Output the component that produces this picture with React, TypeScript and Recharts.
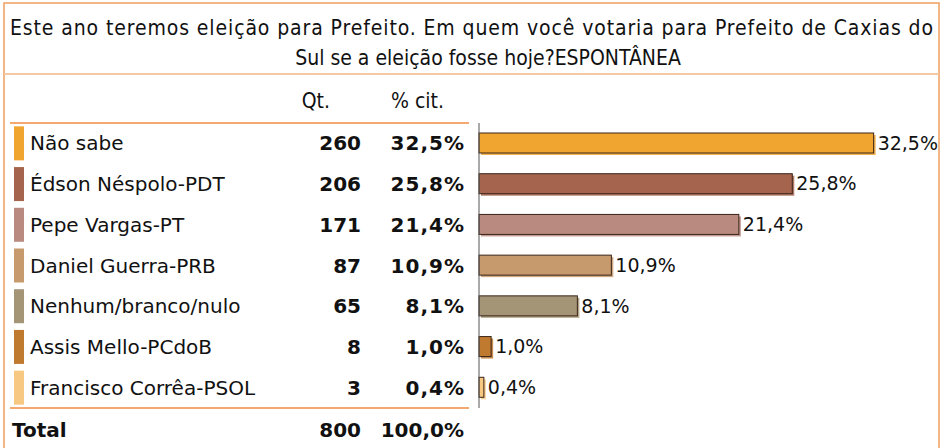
import React from "react";
import { BarChart, Bar, XAxis, YAxis, LabelList, Cell } from "recharts";

const categories = [
  "Não sabe",
  "Édson Néspolo-PDT",
  "Pepe Vargas-PT",
  "Daniel Guerra-PRB",
  "Nenhum/branco/nulo",
  "Assis Mello-PCdoB",
  "Francisco Corrêa-PSOL",
];
const counts = [260, 206, 171, 87, 65, 8, 3];
const percents = [32.5, 25.8, 21.4, 10.9, 8.1, 1.0, 0.4];
const colors = ["#F0A530", "#A5644E", "#B88A80", "#C69A6C", "#A39575", "#C07A30", "#F6C882"];
const titleLines = [
  "Este ano teremos eleição para Prefeito. Em quem você votaria para Prefeito de Caxias do",
  "Sul se a eleição fosse hoje?ESPONTÂNEA",
];
const headerQt = "Qt.";
const headerPct = "% cit.";
const totalLabel = "Total";
const totalCount = 800;
const totalPercent = 100.0;

const data = categories.map((name, i) => ({
  name,
  qt: counts[i],
  pct: percents[i],
  color: colors[i],
}));

const fmtPct = (v: number) => v.toFixed(1).replace(".", ",") + "%";

const FONT = "'DejaVu Sans', Verdana, sans-serif";
const TITLE_FONT = "'DejaVu Sans Condensed', 'DejaVu Sans', sans-serif";
const ORANGE = "#F0A060";

const RowTick = (props: any) => {
  const { y, payload, index } = props;
  const d = data[index] || data.find((r) => r.name === payload.value);
  return (
    <g>
      <rect x={14} y={y - 17} width={10} height={34} fill={d.color} />
      <text x={30} y={y} dy={7} fontSize={20} fontFamily={FONT} fill="#111" textAnchor="start">
        {payload.value}
      </text>
      <text x={361} y={y} dy={7} fontSize={20} fontWeight="bold" fontFamily={FONT} fill="#111" textAnchor="end">
        {d.qt}
      </text>
      <text x={465} y={y} dy={7} fontSize={20} fontWeight="bold" fontFamily={FONT} fill="#111" textAnchor="end" letterSpacing={1}>
        {fmtPct(d.pct)}
      </text>
    </g>
  );
};

const ShadowBar = (props: any) => {
  const { x, y, width, height, fill } = props;
  if (width == null || height == null) return null;
  return (
    <g>
      <rect x={x + 2} y={y + 2} width={Math.max(width, 0)} height={height} fill={fill} opacity={0.85} />
      <rect x={x} y={y} width={Math.max(width, 0)} height={height} fill={fill} stroke="#3a2418" strokeWidth={1} />
    </g>
  );
};

export default function App() {
  return (
    <div style={{ position: "absolute", left: 0, top: 0, width: 942, height: 448, background: "#fff" }}>
      <svg width={942} height={448} style={{ position: "absolute", left: 0, top: 0 }}>
        <rect x={4} y={3} width={935} height={460} fill="none" stroke={ORANGE} strokeWidth={1.5} />
        <line x1={4} x2={939} y1={74} y2={74} stroke="#F5C8A4" strokeWidth={2} />
        <text
          x={10}
          y={35}
          fontSize={21}
          fontFamily={TITLE_FONT}
          fill="#111"
          textLength={923}
          lengthAdjust="spacing"
        >
          {titleLines[0]}
        </text>
        <text x={488} y={65} fontSize={21} fontFamily={TITLE_FONT} fill="#111" textAnchor="middle">
          {titleLines[1]}
        </text>
        <text x={330} y={108} fontSize={21} fontFamily={TITLE_FONT} fill="#111" textAnchor="end">
          {headerQt}
        </text>
        <text x={444} y={108} fontSize={21} fontFamily={TITLE_FONT} fill="#111" textAnchor="end">
          {headerPct}
        </text>
        <line x1={10} x2={469} y1={123} y2={123} stroke="#F5A870" strokeWidth={2} />
        <line x1={10} x2={469} y1={408} y2={408} stroke="#F5A870" strokeWidth={2} />
        <text x={12} y={437} fontSize={20} fontWeight="bold" fontFamily={FONT} fill="#111">
          {totalLabel}
        </text>
        <text x={361} y={437} fontSize={20} fontWeight="bold" fontFamily={FONT} fill="#111" textAnchor="end">
          {totalCount}
        </text>
        <text x={464} y={437} fontSize={20} fontWeight="bold" fontFamily={FONT} fill="#111" textAnchor="end">
          {fmtPct(totalPercent)}
        </text>
      </svg>
      <div style={{ position: "absolute", left: 0, top: 0 }}>
        <BarChart
          width={942}
          height={448}
          data={data}
          layout="vertical"
          margin={{ top: 123, right: 38, bottom: 40, left: 0 }}
          barSize={20}
        >
          <XAxis type="number" domain={[0, 35]} hide />
          <YAxis
            type="category"
            dataKey="name"
            width={479}
            axisLine={{ stroke: "#555", strokeWidth: 1 }}
            tickLine={false}
            tick={<RowTick />}
            interval={0}
          />
          <Bar dataKey="pct" isAnimationActive={false} shape={<ShadowBar />}>
            {data.map((d, i) => (
              <Cell key={i} fill={d.color} />
            ))}
            <LabelList
              dataKey="pct"
              position="right"
              offset={4}
              formatter={(v: any) => fmtPct(Number(v))}
              style={{ fontSize: 19, fontFamily: FONT, fill: "#111" }}
            />
          </Bar>
        </BarChart>
      </div>
    </div>
  );
}
